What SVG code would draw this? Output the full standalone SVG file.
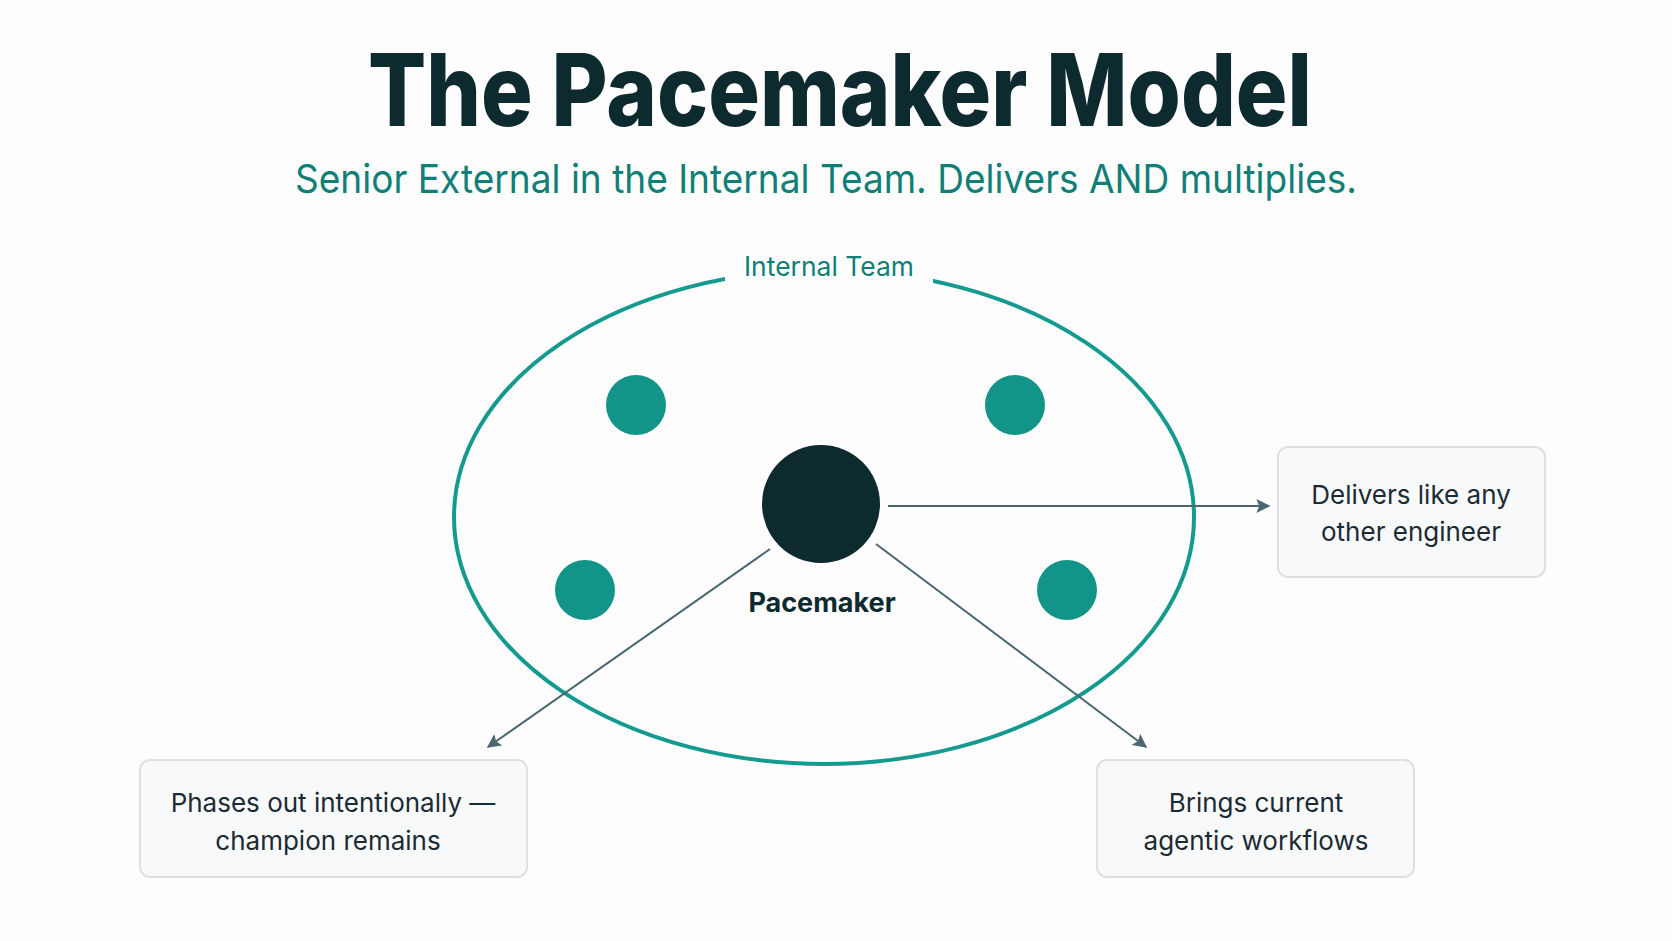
<svg xmlns="http://www.w3.org/2000/svg" width="1672" height="941" viewBox="0 0 1672 941">
<defs>
<style>
.box{fill:#f8f9fa;stroke:#dde1e4;stroke-width:2}
.bt{font-family:Inter,"Noto Sans",sans-serif;font-size:26px;fill:#1c2b33;text-anchor:middle}
.dot{fill:#129488}
.conn{stroke:#4a6670;stroke-width:2;fill:none;marker-end:url(#ah)}
</style>
<marker id="ah" viewBox="0 0 10 10" refX="9" refY="5" markerWidth="14" markerHeight="14" orient="auto" markerUnits="userSpaceOnUse">
<path d="M0,0 L10,5 L0,10 L2,5 z" fill="#4a6670"/>
</marker>
</defs>
<rect width="1672" height="941" fill="#fdfdfd"/>
<text x="840" y="126" font-family="Inter,'Noto Sans',sans-serif" font-weight="800" font-size="100" fill="#0d2a2e" text-anchor="middle" textLength="944" lengthAdjust="spacingAndGlyphs">The Pacemaker Model</text>
<text x="826" y="193" font-family="Inter,'Noto Sans',sans-serif" font-size="40" fill="#0f7f78" text-anchor="middle" textLength="1062" lengthAdjust="spacingAndGlyphs">Senior External in the Internal Team. Delivers AND multiplies.</text>
<g id="team">
<ellipse cx="824" cy="517" rx="370" ry="247" fill="none" stroke="#149a8e" stroke-width="4"/>
<rect x="725" y="250" width="208" height="40" fill="#fdfdfd"/>
<text x="829" y="276" font-family="Inter,'Noto Sans',sans-serif" font-size="27" fill="#0f7f78" text-anchor="middle" textLength="170" lengthAdjust="spacingAndGlyphs">Internal Team</text>
</g>
<g id="members">
<circle class="dot" cx="636" cy="405" r="30"/>
<circle class="dot" cx="1015" cy="405" r="30"/>
<circle class="dot" cx="585" cy="590" r="30"/>
<circle class="dot" cx="1067" cy="590" r="30"/>
</g>
<g id="pacemaker">
<circle cx="821" cy="504" r="59" fill="#0d2a2e"/>
<text x="822" y="612" font-family="Inter,'Noto Sans',sans-serif" font-weight="700" font-size="27" fill="#0d2a2e" text-anchor="middle">Pacemaker</text>
</g>
<g id="connectors">
<line class="conn" x1="888" y1="506" x2="1269" y2="506"/>
<line class="conn" x1="770" y1="549" x2="488" y2="747"/>
<line class="conn" x1="876" y1="544" x2="1146" y2="747"/>
</g>
<g id="delivers">
<rect class="box" x="1278" y="447" width="267" height="130" rx="10"/>
<text class="bt" x="1411" y="504">Delivers like any</text>
<text class="bt" x="1411" y="541">other engineer</text>
</g>
<g id="phases">
<rect class="box" x="140" y="760" width="387" height="117" rx="10"/>
<text class="bt" x="333" y="812">Phases out intentionally —</text>
<text class="bt" x="328" y="850">champion remains</text>
</g>
<g id="brings">
<rect class="box" x="1097" y="760" width="317" height="117" rx="10"/>
<text class="bt" x="1256" y="812">Brings current</text>
<text class="bt" x="1256" y="850">agentic workflows</text>
</g>
</svg>
